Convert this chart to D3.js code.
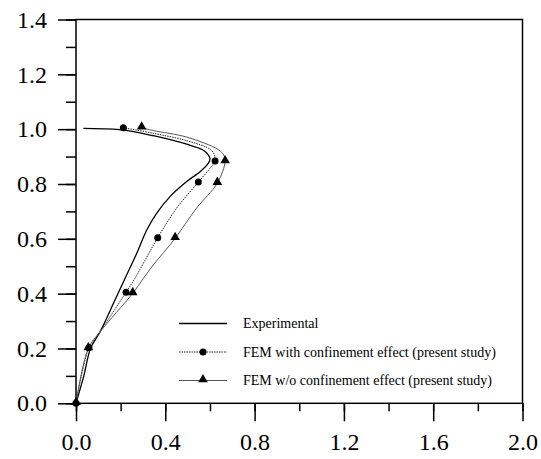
<!DOCTYPE html>
<html lang="en">
<head>
  <meta charset="UTF-8">
  <title>Load-displacement curves</title>
  <script src="https://d3js.org/d3.v7.min.js"></script>
  <style>
    body { margin: 0; background: #fff; }
    svg { display: block; }
    text { font-family: "Liberation Serif", "Times New Roman", serif; fill: #000; }
  </style>
</head>
<body>
  <svg id="chart" width="541" height="459"></svg>

  <script>
    // Experimental curve
    const expX = [0, 0.035, 0.065, 0.108, 0.172, 0.22, 0.272, 0.317, 0.361, 0.421, 0.496, 0.556, 0.593, 0.60, 0.588, 0.567, 0.496, 0.346, 0.197, 0.033];
    const expY = [0, 0.1, 0.2, 0.261, 0.372, 0.456, 0.547, 0.632, 0.693, 0.754, 0.809, 0.845, 0.876, 0.894, 0.911, 0.925, 0.945, 0.976, 0.998, 1.003];

    // FEM with confinement effect: curve and markers
    const withX = [0, 0.058, 0.108, 0.224, 0.264, 0.308, 0.366, 0.451, 0.548, 0.60, 0.623, 0.62, 0.604, 0.496, 0.346, 0.212];
    const withY = [0, 0.203, 0.261, 0.405, 0.456, 0.52, 0.604, 0.712, 0.807, 0.857, 0.884, 0.906, 0.925, 0.958, 0.985, 1.005];
    const withMarkX = [0, 0.058, 0.224, 0.366, 0.548, 0.623, 0.212];
    const withMarkY = [0, 0.203, 0.405, 0.604, 0.807, 0.884, 1.005];

    // FEM without confinement effect: curve and markers
    const woX = [0, 0.055, 0.108, 0.254, 0.302, 0.347, 0.444, 0.54, 0.633, 0.668, 0.662, 0.638, 0.496, 0.346, 0.294];
    const woY = [0, 0.2, 0.261, 0.401, 0.456, 0.505, 0.602, 0.712, 0.803, 0.882, 0.905, 0.925, 0.971, 0.995, 1.005];
    const woMarkX = [0, 0.055, 0.254, 0.444, 0.633, 0.668, 0.294];
    const woMarkY = [0, 0.2, 0.401, 0.602, 0.803, 0.882, 1.005];

    const xTicks = [0, 0.4, 0.8, 1.2, 1.6, 2.0];
    const yTicks = [0, 0.2, 0.4, 0.6, 0.8, 1.0, 1.2, 1.4];
    const legendLabels = ["Experimental", "FEM with confinement effect (present study)", "FEM w/o confinement effect (present study)"];

    const svg = d3.select("#chart");
    const margin = { top: 19.5, right: 18.5, bottom: 55.7, left: 76 };
    const width = 541 - margin.left - margin.right;
    const height = 459 - margin.top - margin.bottom;
    const g = svg.append("g").attr("transform", `translate(${margin.left},${margin.top})`);

    const x = d3.scaleLinear().domain([0, 2]).range([0, width]);
    const y = d3.scaleLinear().domain([0, 1.4]).range([height, 0]);

    // frame
    g.append("rect")
     .attr("width", width).attr("height", height)
     .attr("fill", "none").attr("stroke", "#000").attr("stroke-width", 1.5);

    // minor ticks
    g.append("g")
     .attr("transform", `translate(0,${height})`)
     .call(d3.axisBottom(x).tickValues(d3.range(0, 2.01, 0.2)).tickSize(8).tickFormat(""))
     .call(a => a.select(".domain").remove())
     .selectAll("line").attr("stroke-width", 1.5);
    g.append("g")
     .call(d3.axisLeft(y).tickValues(d3.range(0, 1.41, 0.1)).tickSize(10).tickFormat(""))
     .call(a => a.select(".domain").remove())
     .selectAll("line").attr("stroke-width", 1.5);

    // major ticks + labels
    const xAxis = g.append("g")
     .attr("transform", `translate(0,${height})`)
     .call(d3.axisBottom(x).tickValues(xTicks).tickSize(18).tickPadding(12).tickFormat(d3.format(".1f")));
    xAxis.select(".domain").remove();
    xAxis.selectAll("line").attr("stroke-width", 1.5);
    xAxis.selectAll("text").attr("font-size", 24);

    const yAxis = g.append("g")
     .call(d3.axisLeft(y).tickValues(yTicks).tickSize(18).tickPadding(11).tickFormat(d3.format(".1f")));
    yAxis.select(".domain").remove();
    yAxis.selectAll("line").attr("stroke-width", 1.5);
    yAxis.selectAll("text").attr("font-size", 24);

    const line = d3.line()
      .x(d => x(d[0])).y(d => y(d[1]))
      .curve(d3.curveCatmullRom.alpha(0.5));

    const series = [
      { xs: expX, ys: expY, stroke: "#000", width: 1.3, dash: null },
      { xs: withX, ys: withY, stroke: "#222", width: 1, dash: "1.5,1" },
      { xs: woX, ys: woY, stroke: "#555", width: 1, dash: null }
    ];
    series.forEach(s => {
      g.append("path")
       .datum(s.xs.map((v, i) => [v, s.ys[i]]))
       .attr("fill", "none")
       .attr("stroke", s.stroke)
       .attr("stroke-width", s.width)
       .attr("stroke-dasharray", s.dash)
       .attr("d", line);
    });

    const tri = d3.symbol().type(d3.symbolTriangle).size(40);

    g.selectAll("path.tri")
     .data(woMarkX.map((v, i) => [v, woMarkY[i]]))
     .enter().append("path")
     .attr("class", "tri")
     .attr("d", tri)
     .attr("transform", d => `translate(${x(d[0])},${y(d[1]) - 1})`)
     .attr("fill", "#000");

    g.selectAll("circle.mk")
     .data(withMarkX.map((v, i) => [v, withMarkY[i]]))
     .enter().append("circle")
     .attr("class", "mk")
     .attr("cx", d => x(d[0]))
     .attr("cy", d => y(d[1]))
     .attr("r", 3.5)
     .attr("fill", "#000");

    // legend
    const legend = svg.append("g").attr("transform", "translate(179,323.5)");
    legendLabels.forEach((label, i) => {
      const row = legend.append("g").attr("transform", `translate(0,${i * 28.5})`);
      const s = series[i];
      row.append("line")
         .attr("x1", 0).attr("x2", 48)
         .attr("stroke", s.stroke)
         .attr("stroke-width", s.width)
         .attr("stroke-dasharray", s.dash);
      if (i === 1) row.append("circle").attr("cx", 24).attr("r", 3.5).attr("fill", "#000");
      if (i === 2) row.append("path").attr("d", tri).attr("transform", "translate(24,-1)").attr("fill", "#000");
      row.append("text")
         .attr("x", 64).attr("dy", "0.35em")
         .attr("font-size", 14)
         .text(label);
    });
  </script>
</body>
</html>
